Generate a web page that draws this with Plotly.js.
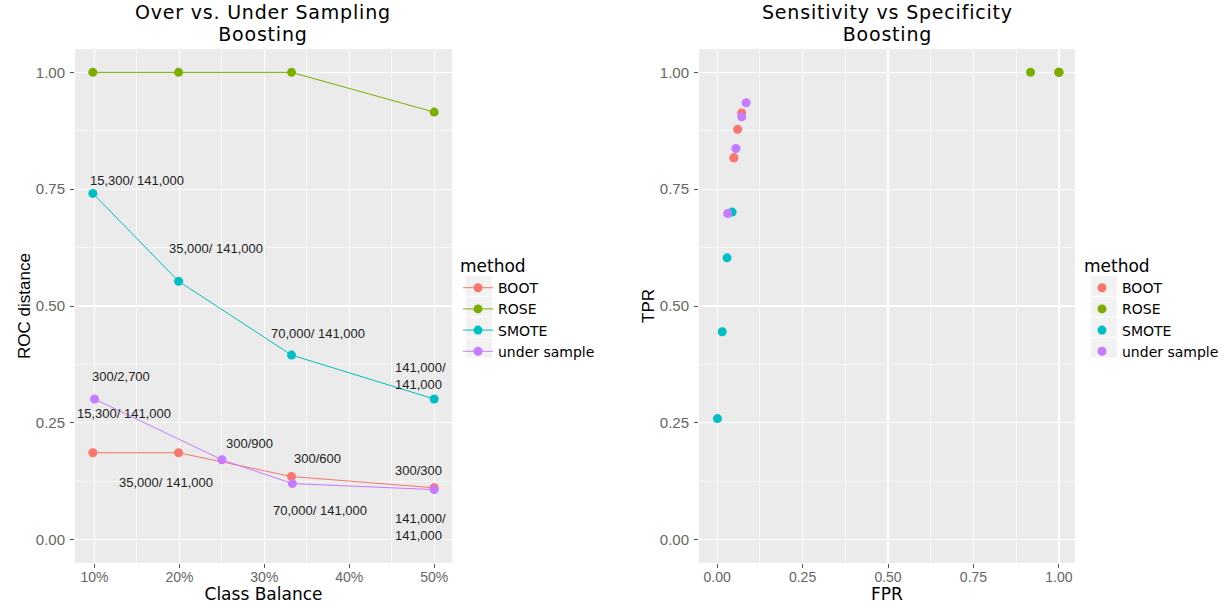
<!DOCTYPE html>
<html>
<head>
<meta charset="utf-8">
<script src="https://cdn.plot.ly/plotly-3.0.1.min.js"></script>
<style>
html,body{margin:0;padding:0;background:#fff;}
#chart{width:1225px;height:604px;}
</style>
</head>
<body>
<div id="chart"></div>
<script>
// ---- data ----
const methods = ["BOOT", "ROSE", "SMOTE", "under sample"];
const colors = ["#F8766D", "#7CAE00", "#00BFC4", "#C77CFF"];

// class balance (x) for oversampling-type methods and for under sampling
const balanceOver = [0.098, 0.199, 0.332, 0.5];
const balanceUnder = [0.1, 0.25, 0.333, 0.5];

// ROC distance per method
const rocBoot = [0.186, 0.186, 0.135, 0.111];
const rocRose = [1.0, 1.0, 1.0, 0.915];
const rocSmote = [0.741, 0.553, 0.395, 0.301];
const rocUnder = [0.301, 0.171, 0.120, 0.107];

// FPR / TPR per method
const fprBoot = [0.049, 0.049, 0.060, 0.072];
const tprBoot = [0.817, 0.817, 0.878, 0.913];
const fprRose = [1.0, 1.0, 1.0, 0.917];
const tprRose = [1.0, 1.0, 1.0, 1.0];
const fprSmote = [0.001, 0.015, 0.029, 0.044];
const tprSmote = [0.259, 0.445, 0.603, 0.701];
const fprUnder = [0.031, 0.055, 0.072, 0.085];
const tprUnder = [0.698, 0.837, 0.905, 0.935];

// text labels on the left panel
const labelText = [
  "15,300/ 141,000", "35,000/ 141,000", "70,000/ 141,000", "141,000/<br>141,000",
  "300/2,700", "300/900", "300/600", "300/300",
  "15,300/ 141,000", "35,000/ 141,000", "70,000/ 141,000", "141,000/<br>141,000"
];
const labelX = [0.092, 0.185, 0.306, 0.452, 0.095, 0.253, 0.333, 0.452, 0.0775, 0.126, 0.308, 0.452];
const labelY = [0.769, 0.622, 0.442, 0.350, 0.349, 0.205, 0.173, 0.149, 0.269, 0.122, 0.062, 0.028];

const xTickVals = [0.1, 0.2, 0.3, 0.4, 0.5];
const xTickText = ["10%", "20%", "30%", "40%", "50%"];

const titleLeft = ["Over vs. Under Sampling", "Boosting"];
const titleRight = ["Sensitivity vs Specificity", "Boosting"];

// ---- build ----
const FONT = "Liberation Sans, Arial, sans-serif";
const WFONT = "DejaVu Sans, Liberation Sans, sans-serif";
const rocX = [balanceOver, balanceOver, balanceOver, balanceUnder];
const rocY = [rocBoot, rocRose, rocSmote, rocUnder];
const fprs = [fprBoot, fprRose, fprSmote, fprUnder];
const tprs = [tprBoot, tprRose, tprSmote, tprUnder];

const traces = [];
methods.forEach((m, i) => {
  traces.push({
    x: rocX[i], y: rocY[i], name: m, mode: "lines+markers", type: "scatter",
    xaxis: "x", yaxis: "y", legend: "legend",
    line: {color: colors[i], width: 1},
    marker: {color: colors[i], size: 9}
  });
});
methods.forEach((m, i) => {
  traces.push({
    x: fprs[i], y: tprs[i], name: m, mode: "markers", type: "scatter",
    xaxis: "x2", yaxis: "y2", legend: "legend2",
    marker: {color: colors[i], size: 9}
  });
});

const W = 1225, H = 604;
const yDom = [1 - 563 / H, 1 - 49 / H];
const gridStyle = {
  showgrid: true, gridcolor: "#ffffff", gridwidth: 1.2,
  zeroline: false, showline: false,
  ticks: "outside", ticklen: 4, tickcolor: "#555", tickwidth: 1,
  tickfont: {family: FONT, size: 14, color: "#666"}
};
const yTickFont = {family: FONT, size: 15, color: "#666"};
const minor4 = {tickvals: [0.125, 0.375, 0.625, 0.875], showgrid: true, gridcolor: "#ffffff", gridwidth: 0.6, ticks: ""};

const annotations = labelText.map((t, i) => ({
  x: labelX[i], y: labelY[i], xref: "x", yref: "y", text: t,
  showarrow: false, xanchor: "left", yanchor: "middle",
  font: {family: FONT, size: 13, color: "#222"}, align: "left"
}));
function addTitle(lines, cx) {
  annotations.push({
    x: cx / W, y: 1 - 23 / H, xref: "paper", yref: "paper",
    text: lines.map(t => '<span style="font-size:19px;letter-spacing:0.8px">' + t + '</span>').join("<br>"),
    showarrow: false, xanchor: "center", yanchor: "middle", align: "center",
    font: {family: WFONT, size: 17.3, color: "#000"}
  });
}
addTitle(titleLeft, 263);
addTitle(titleRight, 887);

// grey legend key backgrounds (ggplot style)
const shapes = [];
[[466, 492], [1091, 1117]].forEach(([x0, x1]) => {
  for (let k = 0; k < 4; k++) {
    const yc = 286 + 20.6 * k;
    shapes.push({
      type: "rect", xref: "paper", yref: "paper", layer: "below",
      x0: x0 / W, x1: x1 / W, y0: 1 - (yc + 9.8) / H, y1: 1 - (yc - 9.8) / H,
      fillcolor: "#F2F2F2", line: {width: 0}
    });
  }
});

const legendBase = {
  xanchor: "left", yanchor: "top",
  bgcolor: "rgba(0,0,0,0)", itemwidth: 30, tracegroupgap: 0,
  title: {text: "method", font: {family: WFONT, size: 17, color: "#000"}},
  font: {family: WFONT, size: 14, color: "#000"}
};

const layout = {
  width: W, height: H,
  margin: {l: 0, r: 0, t: 0, b: 0},
  paper_bgcolor: "#ffffff", plot_bgcolor: "#EBEBEB",
  font: {family: FONT},
  showlegend: true,
  xaxis: Object.assign({}, gridStyle, {
    domain: [75 / W, 452 / W], anchor: "y", ticklabelstandoff: -3,
    range: [0.077, 0.521], tickvals: xTickVals, ticktext: xTickText,
    minor: {tickvals: [0.15, 0.25, 0.35, 0.45], showgrid: true, gridcolor: "#ffffff", gridwidth: 0.6, ticks: ""},
    title: {text: "Class Balance", font: {family: WFONT, size: 17, color: "#000"}, standoff: 2}
  }),
  yaxis: Object.assign({}, gridStyle, {
    domain: yDom, anchor: "x", ticklabelstandoff: 2, tickfont: yTickFont,
    range: [-0.05, 1.05], tickvals: [0, 0.25, 0.5, 0.75, 1], tickformat: ".2f",
    minor: minor4,
    title: {text: "ROC distance", font: {family: FONT, size: 17, color: "#000"}, standoff: 0}
  }),
  xaxis2: Object.assign({}, gridStyle, {
    domain: [699 / W, 1075 / W], anchor: "y2", ticklabelstandoff: -3,
    range: [-0.053, 1.047], tickvals: [0, 0.25, 0.5, 0.75, 1], tickformat: ".2f",
    minor: minor4,
    title: {text: "FPR", font: {family: WFONT, size: 17, color: "#000"}, standoff: 2}
  }),
  yaxis2: Object.assign({}, gridStyle, {
    domain: yDom, anchor: "x2", ticklabelstandoff: 2, tickfont: yTickFont,
    range: [-0.05, 1.05], tickvals: [0, 0.25, 0.5, 0.75, 1], tickformat: ".2f",
    minor: minor4,
    title: {text: "TPR", font: {family: FONT, size: 17, color: "#000"}, standoff: 0}
  }),
  legend: Object.assign({}, legendBase, {x: 458 / W, y: 1 - 250 / H}),
  legend2: Object.assign({}, legendBase, {x: 1082 / W, y: 1 - 250 / H}),
  annotations: annotations,
  shapes: shapes
};

Plotly.newPlot("chart", traces, layout, {displayModeBar: false, staticPlot: true});
</script>
</body>
</html>
